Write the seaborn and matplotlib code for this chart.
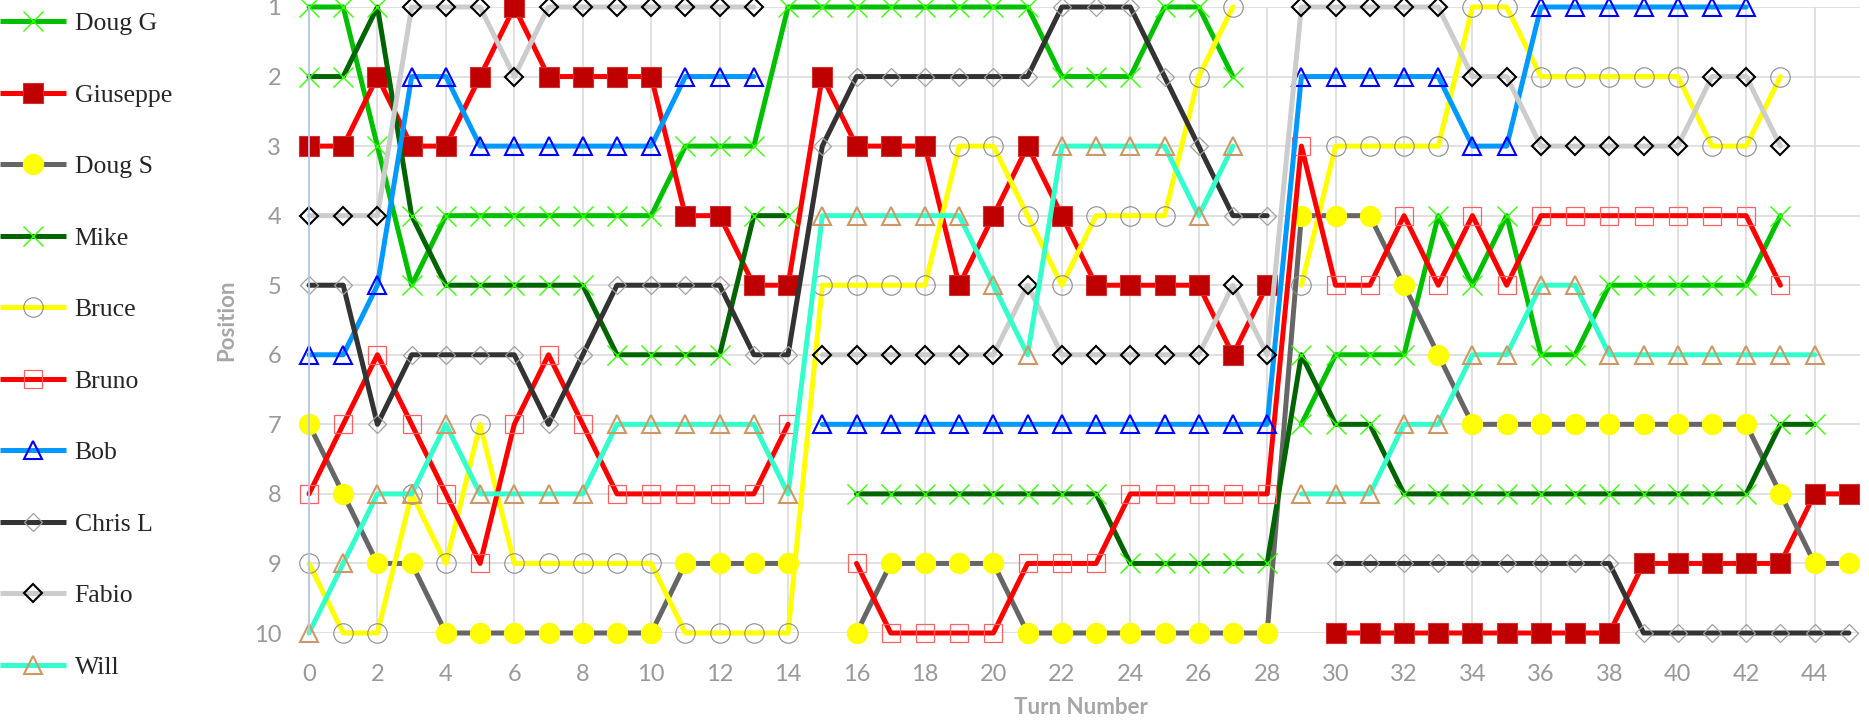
import numpy as np
import pandas as pd
import matplotlib
matplotlib.use("Agg")
import matplotlib.pyplot as plt
import seaborn as sns
from matplotlib.lines import Line2D

N = np.nan
turns = list(range(46))

doug_g = [1, 1, 3, 5, 4, 4, 4, 4, 4, 4, 4, 3, 3, 3, 1, 1, 1, 1, 1, 1, 1, 1, 2, 2, 2, 1, 1, 2, N,
          7, 6, 6, 6, 4, 5, 4, 6, 6, 5, 5, 5, 5, 5, 4, N, N]
giuseppe = [3, 3, 2, 3, 3, 2, 1, 2, 2, 2, 2, 4, 4, 5, 5, 2, 3, 3, 3, 5, 4, 3, 4, 5, 5, 5, 5, 6, 5, N,
            10, 10, 10, 10, 10, 10, 10, 10, 10, 9, 9, 9, 9, 9, 8, 8]
doug_s = [7, 8, 9, 9, 10, 10, 10, 10, 10, 10, 10, 9, 9, 9, 9, N, 10, 9, 9, 9, 9, 10, 10, 10, 10, 10, 10, 10, 10,
          4, 4, 4, 5, 6, 7, 7, 7, 7, 7, 7, 7, 7, 7, 8, 9, 9]
mike = [2, 2, 1, 4, 5, 5, 5, 5, 5, 6, 6, 6, 6, 4, 4, N, 8, 8, 8, 8, 8, 8, 8, 8, 9, 9, 9, 9, 9,
        6, 7, 7, 8, 8, 8, 8, 8, 8, 8, 8, 8, 8, 8, 7, 7, N]
bruce = [9, 10, 10, 8, 9, 7, 9, 9, 9, 9, 9, 10, 10, 10, 10, 5, 5, 5, 5, 3, 3, 4, 5, 4, 4, 4, 2, 1, N,
         5, 3, 3, 3, 3, 1, 1, 2, 2, 2, 2, 2, 3, 3, 2, N, N]
bruno = [8, 7, 6, 7, 8, 9, 7, 6, 7, 8, 8, 8, 8, 8, 7, N, 9, 10, 10, 10, 10, 9, 9, 9, 8, 8, 8, 8, 8,
         3, 5, 5, 4, 5, 4, 5, 4, 4, 4, 4, 4, 4, 4, 5, N, N]
bob = [6, 6, 5, 2, 2, 3, 3, 3, 3, 3, 3, 2, 2, 2, N, 7, 7, 7, 7, 7, 7, 7, 7, 7, 7, 7, 7, 7, 7,
       2, 2, 2, 2, 2, 3, 3, 1, 1, 1, 1, 1, 1, 1, N, N, N]
chris_l = [5, 5, 7, 6, 6, 6, 6, 7, 6, 5, 5, 5, 5, 6, 6, 3, 2, 2, 2, 2, 2, 2, 1, 1, 1, 2, 3, 4, 4, N,
           9, 9, 9, 9, 9, 9, 9, 9, 9, 10, 10, 10, 10, 10, 10, 10]
fabio = [4, 4, 4, 1, 1, 1, 2, 1, 1, 1, 1, 1, 1, 1, N, 6, 6, 6, 6, 6, 6, 5, 6, 6, 6, 6, 6, 5, 6,
         1, 1, 1, 1, 1, 2, 2, 3, 3, 3, 3, 3, 2, 2, 3, N, N]
will = [10, 9, 8, 8, 7, 8, 8, 8, 8, 7, 7, 7, 7, 7, 8, 4, 4, 4, 4, 4, 5, 6, 3, 3, 3, 3, 4, 3, N,
        8, 8, 8, 7, 7, 6, 6, 5, 5, 6, 6, 6, 6, 6, 6, 6, N]

players = ["Doug G", "Giuseppe", "Doug S", "Mike", "Bruce", "Bruno", "Bob", "Chris L", "Fabio", "Will"]
series = [doug_g, giuseppe, doug_s, mike, bruce, bruno, bob, chris_l, fabio, will]

styles = {
    "Doug G":   dict(color="#00c000", marker="x", markersize=14, markerfacecolor="none",
                     markeredgecolor="#33ff00", markeredgewidth=1.0),
    "Giuseppe": dict(color="#ff0000", marker="s", markersize=14, markerfacecolor="#c00000",
                     markeredgecolor="#d03030", markeredgewidth=0.8),
    "Doug S":   dict(color="#666666", marker="o", markersize=14.5, markerfacecolor="#ffff00",
                     markeredgecolor="#ffff00", markeredgewidth=0.8),
    "Mike":     dict(color="#006400", marker="x", markersize=14, markerfacecolor="none",
                     markeredgecolor="#33ff00", markeredgewidth=1.0),
    "Bruce":    dict(color="#ffff00", marker="o", markersize=14, markerfacecolor="none",
                     markeredgecolor="#8c8c8c", markeredgewidth=0.8),
    "Bruno":    dict(color="#ff0000", marker="s", markersize=13.5, markerfacecolor="none",
                     markeredgecolor="#ff6060", markeredgewidth=0.9),
    "Bob":      dict(color="#0099ff", marker="^", markersize=13.5, markerfacecolor="none",
                     markeredgecolor="#0000ff", markeredgewidth=1.5),
    "Chris L":  dict(color="#333333", marker="D", markersize=9.5, markerfacecolor="none",
                     markeredgecolor="#a0a0a0", markeredgewidth=0.9),
    "Fabio":    dict(color="#cccccc", marker="D", markersize=9.5, markerfacecolor="none",
                     markeredgecolor="#000000", markeredgewidth=1.5),
    "Will":     dict(color="#33ffcc", marker="^", markersize=13.5, markerfacecolor="none",
                     markeredgecolor="#cc9966", markeredgewidth=1.5),
}
LW = 3.6

sns.set_style("white")
plt.rcParams["font.family"] = ["Lato", "DejaVu Sans"]

fig = plt.figure(figsize=(18.69, 7.22), dpi=100)
W, H = 1869, 722
ax_left, ax_right, ax_top, ax_bot = 309, 1860, 7, 633
ax = fig.add_axes([ax_left / W, 1 - ax_bot / H, (ax_right - ax_left) / W, (ax_bot - ax_top) / H])

for name, vals in zip(players, series):
    v = np.array(vals, dtype=float)
    seg = np.cumsum(np.isnan(v))
    df = pd.DataFrame({"turn": turns, "pos": v, "seg": seg}).dropna()
    sns.lineplot(data=df, x="turn", y="pos", units="seg", estimator=None, sort=False,
                 ax=ax, legend=False, linewidth=LW, clip_on=False,
                 solid_joinstyle="round", solid_capstyle="round", **styles[name])

ax.set_xlim(0, (ax_right - ax_left) / 34.22)
ax.set_ylim(10, 1)
ax.set_xticks(list(range(0, 45, 2)))
ax.set_yticks(list(range(1, 11)))
ax.grid(True, color="#d9d9d9", linewidth=1.1)
ax.set_axisbelow(True)
for s in ["top", "right", "bottom"]:
    ax.spines[s].set_visible(False)
ax.spines["left"].set_color("#b4c7e7")
ax.spines["left"].set_linewidth(1.3)
ax.tick_params(axis="y", length=5, width=1.3, color="#b4c7e7", pad=15,
               labelsize=17, labelcolor="#999999")
ax.tick_params(axis="x", length=0, pad=22, labelsize=17, labelcolor="#999999")

ax.set_xlabel("Turn Number", fontsize=16, fontweight="bold", color="#a6a6a6")
ax.set_ylabel("Position", fontsize=16, fontweight="bold", color="#a6a6a6")
ax.xaxis.set_label_coords((1081 - ax_left) / (ax_right - ax_left), -(697 - ax_bot) / (ax_bot - ax_top))
ax.yaxis.set_label_coords(-(309 - 237) / (ax_right - ax_left), 0.5)

handles = [Line2D([0], [0], linewidth=LW, solid_capstyle="butt", **styles[n]) for n in players]
leg = fig.legend(handles, players, loc="upper left", bbox_to_anchor=(0.0, 1 - 12 / H),
                 frameon=False, handlelength=2.55, handletextpad=0.35,
                 labelspacing=1.89, borderpad=0, borderaxespad=0,
                 prop={"family": ["Liberation Serif"], "size": 18.5})

fig.savefig("out.png", dpi=100)
